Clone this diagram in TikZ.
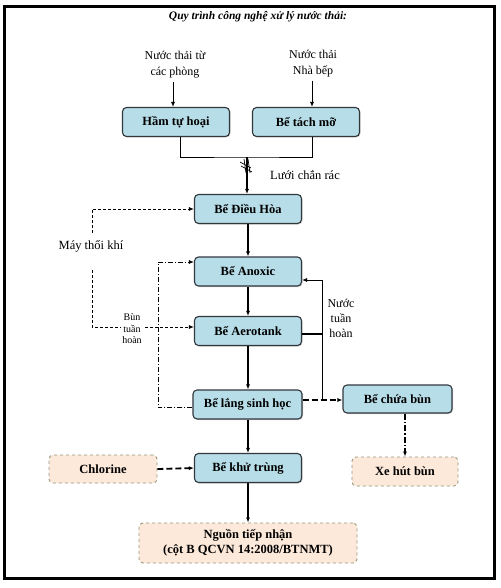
\documentclass[tikz,border=0pt]{standalone}
\usepackage{fontspec}
\setmainfont{Liberation Serif}
\usetikzlibrary{arrows.meta,shadows}
\definecolor{boxblue}{RGB}{183,221,232}
\definecolor{boxline}{RGB}{50,55,60}
\definecolor{peach}{RGB}{252,233,218}
\definecolor{peachline}{RGB}{150,150,125}
\begin{document}
\begin{tikzpicture}[x=1pt,y=-1pt,
  bluebox/.style={draw=boxline, line width=1.1pt, fill=boxblue, rounded corners=4pt,
    minimum width=107pt, minimum height=29pt, inner sep=1pt,
    font=\bfseries\fontsize{12.5}{14}\selectfont,
    drop shadow={shadow xshift=1pt,shadow yshift=-1pt,opacity=0.35}},
  peachbox/.style={draw=peachline, dashed, line width=0.9pt, fill=peach, rounded corners=4pt,
    inner sep=1pt, align=center, font=\bfseries\fontsize{12.5}{15}\selectfont},
  lbl/.style={align=center, font=\fontsize{12.5}{16}\selectfont, inner sep=1pt},
  tip/.style={-{Latex[length=5pt,width=4pt]}},
  conn/.style={tip, line width=0.9pt},
  dsh/.style={line width=0.8pt, dash pattern=on 3pt off 2pt},
  dshdot/.style={line width=0.8pt, dash pattern=on 5pt off 2pt on 1pt off 2pt},
  thickdsh/.style={tip, line width=1.8pt, dash pattern=on 6pt off 3pt},
  thickdd/.style={tip, line width=1.8pt, dash pattern=on 6pt off 2pt on 1.5pt off 2pt}]
\useasboundingbox (0,0) rectangle (500,588);
\fill[white] (0,0) rectangle (500,588);
\draw[line width=3pt] (4.5,6.5) rectangle (494.5,578.5);

% title
\node[font=\bfseries\itshape\fontsize{11.5}{13}\selectfont] (title) at (258,17) {Quy trình công nghệ xử lý nước thải:};

% sources
\node[lbl, font=\fontsize{12}{16}\selectfont] (src1) at (175,65) {Nước thải từ\\các phòng};
\node[lbl, font=\fontsize{12}{16}\selectfont] (src2) at (313,64) {Nước thải\\Nhà bếp};

% blue boxes
\node[bluebox] (ht) at (176,122) {Hầm tự hoại};
\node[bluebox] (tm) at (306,122) {Bể tách mỡ};
\node[bluebox] (dh) at (248,209) {Bể Điều Hòa};
\node[bluebox] (ano) at (248,271.5) {Bể Anoxic};
\node[bluebox] (aero) at (248,331) {Bể Aerotank};
\node[bluebox, minimum width=109pt] (lang) at (247.5,404.5) {Bể lắng sinh học};
\node[bluebox] (kt) at (248,468) {Bể khử trùng};
\node[bluebox, minimum width=109pt, minimum height=28pt] (cb) at (397.5,399) {Bể chứa bùn};

% peach boxes
\node[peachbox, minimum width=108pt, minimum height=28pt] (chl) at (103,469) {Chlorine};
\node[peachbox, minimum width=106pt, minimum height=29pt] (xe) at (405,471.5) {Xe hút bùn};
\node[peachbox, minimum width=218pt, minimum height=40pt] (ng) at (248,543) {Nguồn tiếp nhận\\(cột B QCVN 14:2008/BTNMT)};

% labels
\node[lbl] (luoi) at (305,175) {Lưới chắn rác};
\node[lbl] (mtk) at (91,246) {Máy thổi khí};
\node[align=center, font=\fontsize{12}{15}\selectfont, inner sep=1pt] (ntn) at (341,318) {Nước\\tuần\\hoàn};

% coordinates
\coordinate (j) at (247,157);
\coordinate (r1) at (322,280);
\coordinate (r2) at (322,400);
\coordinate (m1) at (92,233);
\coordinate (m2) at (92,270);
\coordinate (bl) at (158,262);

% source arrows
\draw[conn] (src1.south) ++(-2,2) coordinate (s1) -- (s1 |- ht.north);
\draw[conn] (src2.south) ++(-1,2) coordinate (s2) -- (s2 |- tm.north);

% merge
\draw[line width=0.9pt] ([xshift=4pt]ht.south) |- (j) -| ([xshift=6pt]tm.south);
\draw[conn, line width=1.2pt] (j) -- (j |- dh.north);
% screen mark
\draw[line width=0.7pt] (240,162) -- (251,168) (241,166) -- (252,172) (244,159) -- (246,173) (248,159) -- (250,173);

% main chain
\draw[conn, line width=1.1pt] (dh.south) -- (ano.north);
\draw[conn, line width=1.1pt] (ano.south) -- (aero.north);
\draw[conn, line width=1.1pt] (aero.south) -- (aero.south |- lang.north);
\draw[conn, line width=1.2pt] (aero.south |- lang.south) -- (kt.north);
\draw[conn, line width=1.1pt] (kt.south) -- (kt.south |- ng.north);

% recirculation water
\draw[conn] (r2) -- (r1) -- (r1 -| ano.east);
\draw[line width=1.4pt] ([yshift=-3pt]aero.east) -- ([yshift=-3pt]aero.east -| r1);

% sludge to storage
\draw[thickdsh] (r2 -| lang.east) -- (r2 -| cb.west);
\draw[thickdd] (xe.north |- cb.south) -- (xe.north);

% chlorine
\draw[thickdsh] (chl.east) -- (kt.west);

% blower
\draw[dsh, tip] (m1) |- (dh.west);
\draw[dsh, tip] (m2) |- ([yshift=4pt]aero.west);

% return sludge
\draw[dshdot, tip] ([yshift=-3pt]lang.west) -| (bl) -- (bl -| ano.west);

% return sludge label (over the blower line)
\node[align=center, fill=white, font=\fontsize{10}{11.5}\selectfont, inner sep=1pt] (btn) at (132,329) {Bùn\\tuần\\hoàn};
\end{tikzpicture}
\end{document}
